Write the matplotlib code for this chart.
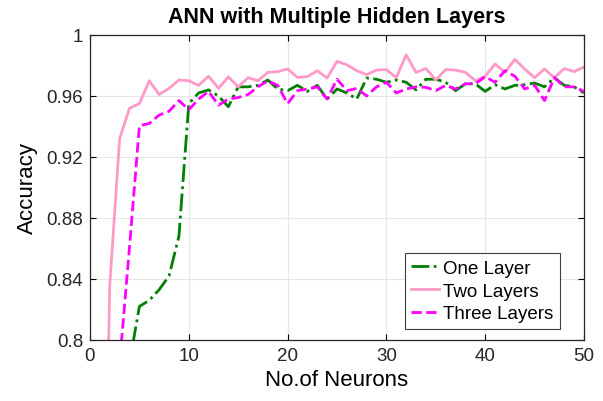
import matplotlib
matplotlib.use("Agg")
import matplotlib.pyplot as plt

plt.rcParams['font.family'] = ['Liberation Sans', 'DejaVu Sans']

# No. of neurons
neurons = list(range(1, 51))

# accuracy for each network depth
one_layer = [0.70, 0.72, 0.75, 0.785, 0.822, 0.826, 0.833, 0.842, 0.868, 0.955,
             0.962, 0.964, 0.960, 0.953, 0.966, 0.966, 0.967, 0.9705, 0.9646, 0.9635,
             0.967, 0.963, 0.967, 0.958, 0.9646, 0.962, 0.958, 0.9718, 0.971, 0.969,
             0.9705, 0.969, 0.964, 0.971, 0.971, 0.969, 0.9635, 0.968, 0.968, 0.963,
             0.9674, 0.9646, 0.967, 0.9674, 0.9685, 0.966, 0.972, 0.967, 0.966, 0.962]
two_layers = [0.50, 0.836, 0.932, 0.952, 0.955, 0.970, 0.961, 0.965, 0.9705, 0.970,
              0.967, 0.973, 0.965, 0.9725, 0.966, 0.972, 0.970, 0.9755, 0.976, 0.9777,
              0.9722, 0.9727, 0.9766, 0.9718, 0.9827, 0.9805, 0.9766, 0.974, 0.977, 0.9773,
              0.972, 0.987, 0.9755, 0.978, 0.9705, 0.9773, 0.977, 0.9755, 0.970, 0.973,
              0.981, 0.9755, 0.984, 0.9777, 0.972, 0.9777, 0.972, 0.978, 0.976, 0.979]
three_layers = [0.60, 0.70, 0.785, 0.861, 0.9405, 0.942, 0.9475, 0.950, 0.957, 0.951,
                0.958, 0.963, 0.954, 0.958, 0.959, 0.961, 0.966, 0.970, 0.967, 0.955,
                0.9635, 0.9646, 0.966, 0.958, 0.971, 0.9635, 0.965, 0.960, 0.966, 0.969,
                0.962, 0.9646, 0.966, 0.9657, 0.9635, 0.967, 0.9646, 0.968, 0.968, 0.9727,
                0.969, 0.9766, 0.973, 0.9646, 0.967, 0.957, 0.972, 0.966, 0.966, 0.963]

x_ticks = [0, 10, 20, 30, 40, 50]
y_ticks = [0.8, 0.84, 0.88, 0.92, 0.96, 1.0]
y_tick_labels = ['0.8', '0.84', '0.88', '0.92', '0.96', '1']

fig = plt.figure(figsize=(6.03, 4.02), dpi=100)
ax = fig.add_axes([90 / 603, 1 - 341 / 402, 494 / 603, 305 / 402])

ax.plot(neurons, one_layer, color='#008000', linestyle='-.', linewidth=2, label='One Layer')
ax.plot(neurons, two_layers, color='#ff99c8', linestyle='-', linewidth=2, label='Two Layers')
ax.plot(neurons, three_layers, color='#ff00ff', linestyle='--', linewidth=2, label='Three Layers')

ax.set_xlim(0, 50)
ax.set_ylim(0.8, 1.0)
ax.set_xticks(x_ticks)
ax.set_yticks(y_ticks)
ax.set_yticklabels(y_tick_labels)
ax.tick_params(direction='in', top=True, right=True, labelsize=13.5, length=4, width=0.8,
               pad=5, labelcolor='#262626')
ax.grid(True, color='#e6e6e6', linewidth=0.8)
ax.set_axisbelow(True)
for s in ax.spines.values():
    s.set_color('#262626')
    s.set_linewidth(0.9)

ax.set_title('ANN with Multiple Hidden Layers', fontsize=15.5, fontweight='bold', pad=9)
ax.set_xlabel('No.of Neurons', fontsize=16, labelpad=4)
ax.set_ylabel('Accuracy', fontsize=16, labelpad=6)

leg = ax.legend(loc='lower right', bbox_to_anchor=(0.951, 0.036), fontsize=13.5,
                fancybox=False, framealpha=1, edgecolor='#404040', handlelength=1.5,
                handletextpad=0.2, borderpad=0.35, labelspacing=0.3, borderaxespad=0)
leg.get_frame().set_linewidth(0.8)

fig.savefig('out.png', dpi=100)
